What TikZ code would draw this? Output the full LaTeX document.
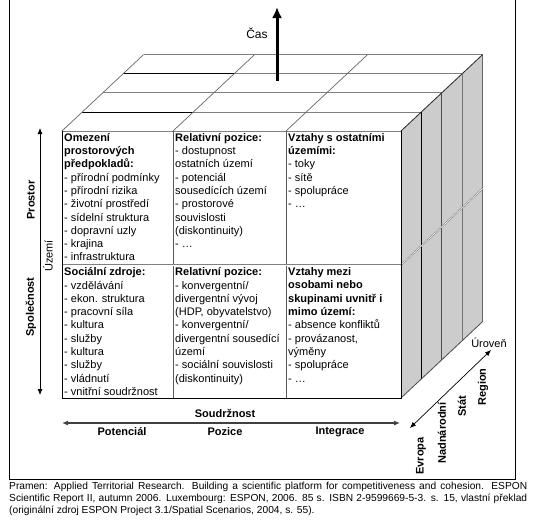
\documentclass[tikz,border=0pt]{standalone}
\usepackage{fontspec}
\setmainfont{Liberation Sans}
\usetikzlibrary{positioning,arrows.meta}

\tikzset{
  cell/.style={anchor=north west, align=left, inner sep=0pt, font=\fontsize{11}{13.3}\selectfont},
  axislabel/.style={inner sep=0pt, font=\fontsize{11}{13}\selectfont},
  levellabel/.style={rotate=90, inner sep=0pt, font=\fontsize{11}{13}\selectfont\bfseries},
  twoway/.style={{Latex[length=6pt,width=5pt]}-{Latex[length=6pt,width=5pt]}},
}

\begin{document}
\begin{tikzpicture}[x=1pt, y=-1pt]
  \useasboundingbox (0,0) rectangle (556,522);
  % one layer of depth
  \pgfmathsetmacro{\dx}{20.4}
  \pgfmathsetmacro{\dy}{19.1}

  % Frame
  \draw[line width=0.8pt] (9,-2) -- (9,479) -- (515,479) -- (515,-2);

  % Right face (levels)
  \fill[black!20] (401,131) -- ++(4*\dx,-4*\dy) -- ++(0,267) -- (401,398) -- cycle;
  \foreach \k/\c in {1/black, 2/black!70, 3/black!55, 4/black!60}
    \draw[\c, line width=0.8pt] (401+\k*\dx,131-\k*\dy) -- (401+\k*\dx,398-\k*\dy);
  \draw[black!70, line width=0.8pt] (401,398) -- ++(4*\dx,-4*\dy);
  \draw[black!60, double=white, double distance=0.6pt] (401,265) -- ++(4*\dx,-4*\dy);

  % Top face (time)
  \foreach \k in {0,...,4}
    \draw[black!50, line width=0.8pt] (62+\k*\dx,131-\k*\dy) -- (401+\k*\dx,131-\k*\dy);
  \foreach \k in {1,3}
    \draw[line width=0.8pt] (62+\k*\dx,131-\k*\dy) -- (173+\k*\dx,131-\k*\dy);
  \foreach \x in {62,173,286}
    \draw[black!60, line width=0.7pt] (\x,131) -- ++(4*\dx,-4*\dy);
  \draw[black!85, line width=0.8pt] (401,131) -- ++(4*\dx,-4*\dy);

  % Front face
  \draw[black!65, line width=0.8pt] (173,131) -- (173,398) (286,131) -- (286,398);
  \draw[black!50, double=white, double distance=0.6pt] (62,265) -- (401,265);
  \draw[line width=0.8pt] (62,131) -- (62,398) -- (401,398) -- (401,131);

  \node[cell] (omezeni) at (64,133) {\textbf{Omezení}\\\textbf{prostorových}\\\textbf{předpokladů:}\\- přírodní podmínky\\- přírodní rizika\\- životní prostředí\\- sídelní struktura\\- dopravní uzly\\- krajina\\- infrastruktura};
  \node[cell] (pozice1) at (175,133) {\textbf{Relativní pozice:}\\- dostupnost\\ostatních území\\- potenciál\\sousedících území\\- prostorové\\souvislosti\\(diskontinuity)\\- \dots};
  \node[cell] (vztahy1) at (288,133) {\textbf{Vztahy s ostatními}\\\textbf{územími:}\\- toky\\- sítě\\- spolupráce\\- \dots};
  \node[cell] (zdroje) at (64,267.5) {\textbf{Sociální zdroje:}\\- vzdělávání\\- ekon. struktura\\- pracovní síla\\- kultura\\- služby\\- kultura\\- služby\\- vládnutí\\- vnitřní soudržnost};
  \node[cell] (pozice2) at (175,267.5) {\textbf{Relativní pozice:}\\- konvergentní/\\divergentní vývoj\\(HDP, obyvatelstvo)\\- konvergentní/\\divergentní sousedící\\území\\- sociální souvislosti\\(diskontinuity)};
  \node[cell] (vztahy2) at (288,267.5) {\textbf{Vztahy mezi}\\\textbf{osobami nebo}\\\textbf{skupinami uvnitř i}\\\textbf{mimo území:}\\- absence konfliktů\\- provázanost,\\výměny\\- spolupráce\\- \dots};

  % Time axis
  \coordinate (cas-low) at (277,81);
  \coordinate (cas-high) at (277,7);
  \draw[line width=3pt, -{Latex[length=11pt,width=10pt]}] (cas-low) -- (cas-high);
  \node[inner sep=0pt, font=\fontsize{12}{14}\selectfont] (cas) at (257,33.5) {Čas};

  % Territory axis
  \coordinate (uzemi-top) at (40,128);
  \coordinate (uzemi-bottom) at (40,395);
  \draw[twoway, line width=0.8pt] (uzemi-top) -- (uzemi-bottom);
  \node[levellabel] (prostor) at (31,200) {Prostor};
  \node[levellabel] (spolecnost) at (31,307) {Společnost};
  \node[axislabel, rotate=90] (uzemi) at (48,256) {Území};

  % Cohesion axis
  \coordinate (soud-left) at (62,423);
  \coordinate (soud-right) at (400,423);
  \draw[twoway, black!75, line width=1.6pt] (soud-left) -- (soud-right);
  \node[axislabel, font=\fontsize{11}{13}\selectfont\bfseries] (soudrznost) at (225,413) {Soudržnost};
  \node[axislabel, font=\fontsize{11}{13}\selectfont\bfseries] (potencial) at (122,432) {Potenciál};
  \node[axislabel, font=\fontsize{11}{13}\selectfont\bfseries] (pozice) at (225,432) {Pozice};
  \node[axislabel, font=\fontsize{11}{13}\selectfont\bfseries] (integrace) at (340,432) {Integrace};

  % Level axis
  \coordinate (uroven-low) at (410,428);
  \coordinate (uroven-high) at (491,350);
  \draw[twoway, line width=0.7pt] (uroven-low) -- (uroven-high);
  \node[axislabel] (uroven) at (489,343) {Úroveň};
  \node[levellabel] (region) at (483,387) {Region};
  \node[levellabel] (stat) at (462,406) {Stát};
  \node[levellabel] (nadnarodni) at (442,433) {Nadnárodní};
  \node[levellabel] (evropa) at (421,456) {Evropa};

  % Source
  \node[anchor=north west, inner sep=0pt, text width=518pt, align=justify, font=\fontsize{10.2}{11.7}\selectfont] (pramen) at (9,482)
    {Pramen: Applied Territorial Research. Building a scientific platform for competitiveness and cohesion. ESPON\linebreak
     Scientific Report II, autumn 2006. Luxembourg: ESPON, 2006. 85 s. ISBN 2-9599669-5-3. s. 15, vlastní překlad\linebreak
     (originální zdroj ESPON Project 3.1/Spatial Scenarios, 2004, s. 55).};
\end{tikzpicture}
\end{document}
